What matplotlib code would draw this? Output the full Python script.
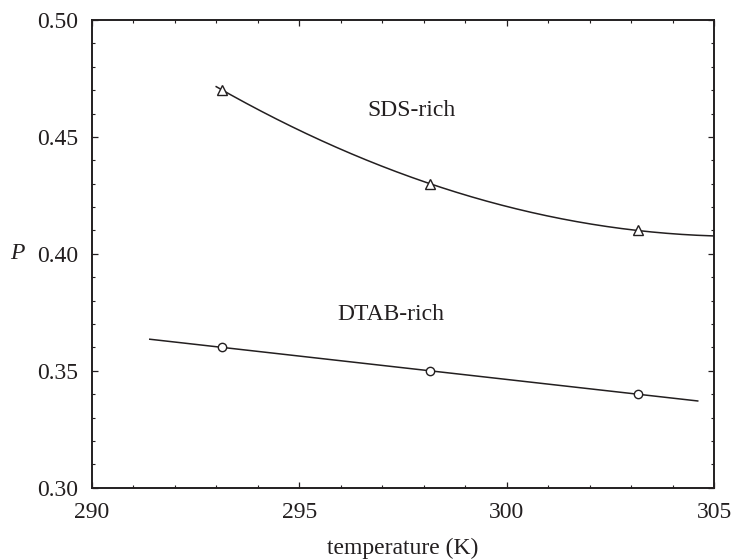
import numpy as np
import matplotlib
matplotlib.use("Agg")
import matplotlib.pyplot as plt
from matplotlib.ticker import MultipleLocator

# measured aggregation parameter P against temperature
temperature = [293.15, 298.15, 303.15]
p_sds_rich = [0.47, 0.43, 0.41]
p_dtab_rich = [0.36, 0.35, 0.34]

# ranges covered by the fitted curves
sds_fit_range = (293.0, 305.0)
dtab_fit_range = (291.4, 304.6)

plt.rcParams['font.family'] = ['Liberation Serif', 'DejaVu Serif']
plt.rcParams['mathtext.fontset'] = 'stix'

ink = '#231f20'

fig = plt.figure(figsize=(7.31, 5.59), dpi=100)
ax = fig.add_axes([0.1254, 0.1275, 0.8518, 0.8367])

# SDS-rich: quadratic fit through the measured points
sds_coef = np.polyfit(temperature, p_sds_rich, 2)
t_sds = np.linspace(*sds_fit_range, 200)
ax.plot(t_sds, np.polyval(sds_coef, t_sds), color=ink, lw=1.1)
ax.plot(temperature, p_sds_rich, linestyle='none', marker='^', ms=7,
        mfc='white', mec=ink, mew=1.0)

# DTAB-rich: straight-line fit
dtab_coef = np.polyfit(temperature, p_dtab_rich, 1)
t_dtab = np.linspace(*dtab_fit_range, 50)
ax.plot(t_dtab, np.polyval(dtab_coef, t_dtab), color=ink, lw=1.1)
ax.plot(temperature, p_dtab_rich, linestyle='none', marker='o', ms=6,
        mfc='white', mec=ink, mew=1.0)

ax.text(297.7, 0.4615, 'SDS-rich', fontsize=17, color=ink, ha='center', va='center')
ax.text(297.2, 0.374, 'DTAB-rich', fontsize=17, color=ink, ha='center', va='center')

ax.set_xlim(290, 305)
ax.set_ylim(0.30, 0.50)
ax.xaxis.set_major_locator(MultipleLocator(5))
ax.xaxis.set_minor_locator(MultipleLocator(1))
ax.yaxis.set_major_locator(MultipleLocator(0.05))
ax.yaxis.set_minor_locator(MultipleLocator(0.01))
ax.yaxis.set_major_formatter(matplotlib.ticker.FormatStrFormatter('%.2f'))

ax.tick_params(which='both', direction='in', top=True, right=True,
               colors=ink, labelcolor=ink, labelsize=17, pad=10)
ax.tick_params(which='major', length=4, width=0.9)
ax.tick_params(which='minor', length=2, width=0.8)
for side in ax.spines.values():
    side.set_linewidth(1.4)
    side.set_color(ink)

ax.set_xlabel('temperature (K)', fontsize=17, color=ink, va='center')
ax.xaxis.set_label_coords(0.5, -0.129)
ax.set_ylabel('P', fontsize=17, color=ink, style='italic', rotation=0,
              ha='center', va='center')
ax.yaxis.set_label_coords(-0.12, 0.5)

fig.savefig('out.png', dpi=100)
